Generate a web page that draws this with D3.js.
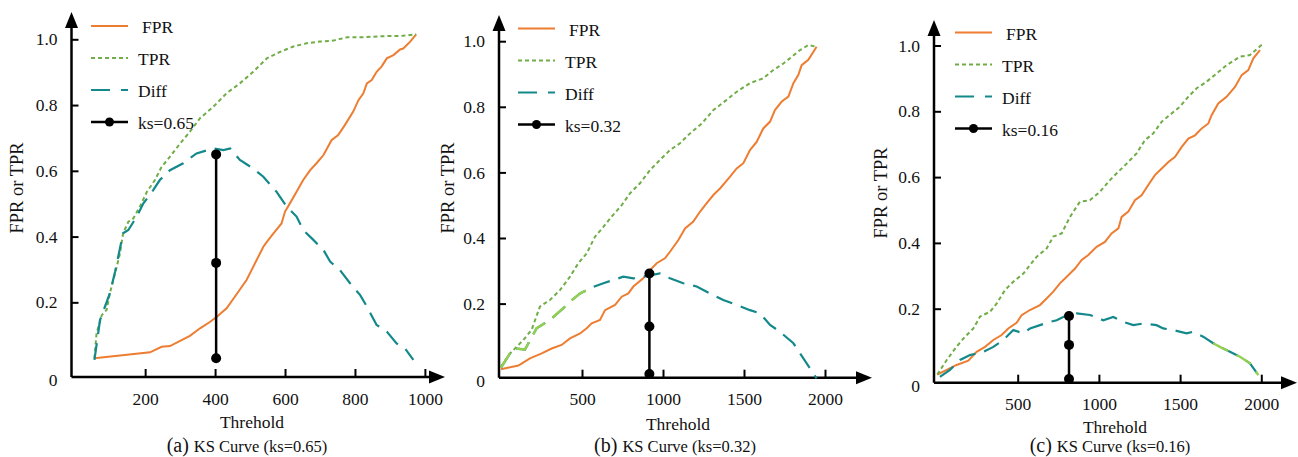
<!DOCTYPE html>
<html lang="en">
<head>
<meta charset="UTF-8">
<title>KS Curves</title>
<script src="https://d3js.org/d3.v7.min.js"></script>
<style>
  body { margin: 0; background: #fff; }
  svg text { font-family: "Liberation Serif", "Times New Roman", serif; fill: #111; }
</style>
</head>
<body>
<svg id="chart" width="1298" height="457"></svg>
<script>
// ---- data: [threshold, rate] ----
const fprA = [[55,.03],[214,.048],[247,.065],[271,.067],[300,.083],[328,.098],[357,.121],[386,.141],[405,.156],
  [433,.182],[467,.233],[490,.268],[509,.308],[538,.369],[548,.384],[567,.41],[590,.44],[600,.476],[614,.501],
  [633,.536],[652,.572],[672,.602],[690,.623],[710,.648],[733,.693],[752,.709],[771,.739],[795,.78],[810,.815],
  [824,.836],[834,.866],[848,.876],[862,.901],[876,.917],[891,.942],[910,.952],[929,.969],[938,.972],[958,.993],[975,1.015]];
const tprA = [[55,.03],[61,.106],[76,.161],[90,.177],[99,.227],[114,.288],[128,.349],[137,.41],[152,.445],[166,.455],
  [185,.491],[205,.536],[228,.572],[247,.612],[271,.643],[300,.683],[328,.719],[357,.76],[395,.795],[433,.836],
  [471,.866],[509,.901],[548,.942],[586,.962],[624,.978],[662,.988],[700,.993],[738,.996],[777,1.006],[815,1.006],
  [853,1.008],[891,1.01],[929,1.01],[975,1.015]];
const diffA = [[55,.025],[71,.146],[99,.227],[114,.293],[137,.41],[152,.42],[176,.461],[195,.501],[223,.541],
  [242,.572],[271,.602],[309,.623],[347,.653],[395,.668],[424,.663],[443,.668],[471,.633],[509,.607],[538,.582],
  [576,.536],[605,.491],[633,.461],[652,.42],[681,.39],[710,.359],[729,.324],[757,.298],[786,.258],[815,.222],
  [834,.187],[862,.131],[891,.111],[919,.075],[943,.06],[967,.025]];
const ksA = [[403,.65],[403,.32],[403,.03]];

const fprB = [[0,0],[107,.011],[179,.033],[251,.048],[313,.063],[374,.074],[426,.094],[488,.109],[529,.125],
  [560,.14],[611,.15],[642,.18],[704,.196],[745,.221],[786,.231],[817,.252],[878,.277],[920,.302],[961,.323],
  [1012,.338],[1043,.358],[1095,.394],[1136,.429],[1187,.45],[1228,.48],[1270,.506],[1311,.531],[1352,.551],
  [1414,.587],[1455,.612],[1496,.628],[1537,.668],[1578,.693],[1619,.734],[1661,.755],[1691,.79],[1733,.816],
  [1774,.831],[1805,.872],[1835,.897],[1856,.927],[1897,.943],[1948,.983]];
const tprB = [[0,.008],[56,.048],[138,.089],[189,.12],[240,.191],[302,.211],[364,.241],[426,.282],[477,.323],
  [529,.353],[580,.404],[632,.434],[683,.465],[745,.5],[796,.536],[858,.567],[920,.607],[981,.638],[1043,.668],
  [1105,.689],[1167,.719],[1239,.749],[1311,.79],[1393,.821],[1455,.846],[1537,.872],[1619,.887],[1681,.912],
  [1743,.932],[1784,.948],[1846,.973],[1897,.988],[1948,.983]];
const diffB = [[0,.005],[76,.064],[148,.06],[220,.125],[302,.15],[385,.186],[426,.206],[488,.231],[570,.251],
  [632,.262],[693,.272],[755,.282],[817,.277],[878,.282],[981,.292],[1043,.277],[1125,.262],[1208,.252],
  [1290,.231],[1372,.211],[1455,.196],[1537,.18],[1599,.17],[1661,.135],[1722,.114],[1805,.079],[1846,.048],
  [1907,.003],[1948,-.028]];
const diffBLight = [0, 570];
const ksB = [[916,.292],[916,.13],[916,-.015]];

const fprC = [[5,0],[63,.014],[124,.029],[196,.042],[247,.069],[299,.084],[350,.105],[401,.12],[442,.14],
  [493,.157],[524,.18],[575,.196],[637,.211],[678,.231],[719,.252],[760,.277],[802,.297],[853,.322],[894,.348],
  [935,.363],[986,.388],[1037,.403],[1078,.429],[1120,.444],[1140,.479],[1181,.495],[1222,.53],[1263,.545],
  [1304,.576],[1345,.606],[1387,.626],[1428,.646],[1469,.662],[1510,.692],[1551,.717],[1592,.727],[1633,.748],
  [1674,.763],[1694,.788],[1735,.824],[1786,.844],[1838,.874],[1879,.91],[1920,.925],[1951,.961],[1992,.986]];
const tprC = [[5,0],[63,.044],[124,.085],[176,.115],[227,.14],[268,.176],[330,.191],[371,.216],[422,.257],
  [473,.282],[535,.307],[576,.333],[617,.358],[678,.383],[719,.419],[771,.429],[822,.479],[883,.525],[945,.53],
  [1006,.555],[1068,.591],[1119,.616],[1171,.641],[1232,.672],[1283,.712],[1335,.733],[1386,.768],[1437,.789],
  [1499,.814],[1550,.844],[1602,.87],[1663,.89],[1725,.915],[1786,.94],[1869,.966],[1930,.971],[2012,1.006]];
const diffC = [[21,-.007],[83,.014],[145,.044],[206,.059],[288,.069],[350,.084],[411,.105],[473,.135],[535,.125],
  [576,.14],[637,.15],[699,.16],[740,.165],[802,.18],[863,.186],[945,.181],[1027,.165],[1088,.175],[1150,.16],
  [1212,.15],[1273,.155],[1355,.15],[1396,.14],[1458,.135],[1540,.125],[1580,.13],[1642,.115],[1704,.095],
  [1745,.084],[1807,.069],[1869,.054],[1930,.034],[1982,-.002]];
const diffCLight = [1700, 2000];
const ksC = [[816,.178],[816,.09],[816,-.014]];

const xTicksA = [200, 400, 600, 800, 1000];
const xTicksBC = [500, 1000, 1500, 2000];
const yTicks = [0.2, 0.4, 0.6, 0.8, 1.0];
const legendNames = ["FPR", "TPR", "Diff"];

const colors = { fpr: "#ed7d31", tpr: "#70ad47", diff: "#14898b", light: "#92d050", ks: "#000" };

const panels = [
  { tag: "(a)", title: "KS Curve (ks=0.65)", ks: "ks=0.65", fpr: fprA, tpr: tprA, diff: diffA, light: null, dots: ksA,
    ticks: xTicksA, xMax: 1000, px: [75.2, 424.9], py: [368.1, 39.3], axX: 71.5, axY: 377, top: 12, right: 445,
    legX: 91, legY: 26, ylabX: 17, ylabY: 188, tickBase: 405, xlabY: 428, xlabX: 252, capX: 247 },
  { tag: "(b)", title: "KS Curve (ks=0.32)", ks: "ks=0.32", fpr: fprB, tpr: tprB, diff: diffB, light: diffBLight, dots: ksB,
    ticks: xTicksBC, xMax: 2000, px: [501, 825], py: [369.2, 41.2], axX: 499, axY: 377.7, top: 15, right: 872,
    legX: 518, legY: 28.5, ylabX: 448, ylabY: 188, tickBase: 405, xlabY: 430, xlabX: 678, capX: 675 },
  { tag: "(c)", title: "KS Curve (ks=0.16)", ks: "ks=0.16", fpr: fprC, tpr: tprC, diff: diffC, light: diffCLight, dots: ksC,
    ticks: xTicksBC, xMax: 2000, px: [936.5, 1261.3], py: [374.5, 45.5], axX: 934, axY: 382.7, top: 20, right: 1297,
    legX: 955, legY: 32.5, ylabX: 881, ylabY: 193, tickBase: 410, xlabY: 433, xlabX: 1115, capX: 1110 }
];

const svg = d3.select("#chart");

panels.forEach(p => {
  const g = svg.append("g");
  const x = d3.scaleLinear().domain([0, p.xMax]).range(p.px);
  const y = d3.scaleLinear().domain([0, 1]).range(p.py);
  const line = d3.line().x(d => x(d[0])).y(d => y(d[1]));

  // axes: ticks pointing into the plot
  const yAxis = g.append("g")
    .attr("transform", `translate(${p.axX},0)`)
    .call(d3.axisLeft(y).tickValues(yTicks).tickFormat(d3.format(".1f")).tickSize(-7).tickPadding(14));
  const xAxis = g.append("g")
    .attr("transform", `translate(0,${p.axY})`)
    .call(d3.axisBottom(x).tickValues(p.ticks).tickFormat(d3.format("d")).tickSize(-8).tickPadding(p.tickBase - p.axY - 12.5));
  [yAxis, xAxis].forEach(a => {
    a.select(".domain").remove();
    a.selectAll(".tick line").attr("stroke", "#000").attr("stroke-width", 2);
    a.selectAll(".tick text").attr("font-size", 17.5).attr("fill", "#111");
  });
  g.append("text").attr("x", p.axX - 14).attr("y", p.axY + 9)
    .attr("text-anchor", "end").attr("font-size", 17.5).text("0");

  // axis lines with arrow heads
  g.append("line").attr("x1", p.axX).attr("x2", p.axX).attr("y1", p.axY).attr("y2", p.top + 12)
    .attr("stroke", "#000").attr("stroke-width", 2.5);
  g.append("line").attr("x1", p.axX).attr("x2", p.right - 12).attr("y1", p.axY).attr("y2", p.axY)
    .attr("stroke", "#000").attr("stroke-width", 2.5);
  g.append("path").attr("d", `M${p.axX},${p.top}L${p.axX - 6.5},${p.top + 16}L${p.axX + 6.5},${p.top + 16}Z`);
  g.append("path").attr("d", `M${p.right},${p.axY}L${p.right - 16},${p.axY - 6.5}L${p.right - 16},${p.axY + 6.5}Z`);

  // curves
  g.append("path").datum(p.fpr).attr("d", line)
    .attr("fill", "none").attr("stroke", colors.fpr).attr("stroke-width", 2);
  g.append("path").datum(p.tpr).attr("d", line)
    .attr("fill", "none").attr("stroke", colors.tpr).attr("stroke-width", 2).attr("stroke-dasharray", "4,3");
  g.append("path").datum(p.diff).attr("d", line)
    .attr("fill", "none").attr("stroke", colors.diff).attr("stroke-width", 2.2).attr("stroke-dasharray", "17,9");
  if (p.light) {
    const part = p.diff.filter(d => d[0] >= p.light[0] && d[0] <= p.light[1]);
    g.append("path").datum(part).attr("d", line)
      .attr("fill", "none").attr("stroke", colors.light).attr("stroke-width", 2.4).attr("stroke-dasharray", "17,9");
  }

  // ks marker
  g.append("path").datum(p.dots).attr("d", line).attr("stroke", colors.ks).attr("stroke-width", 2.5);
  g.selectAll("circle.ks").data(p.dots).join("circle").attr("class", "ks")
    .attr("cx", d => x(d[0])).attr("cy", d => y(d[1])).attr("r", 5).attr("fill", colors.ks);

  // legend
  const leg = g.append("g").attr("transform", `translate(${p.legX},${p.legY})`);
  const styles = [
    { c: colors.fpr, dash: null }, { c: colors.tpr, dash: "4,3" }, { c: colors.diff, dash: "19,11" }, { c: colors.ks, dash: null }
  ];
  legendNames.concat([p.ks]).forEach((name, i) => {
    const row = leg.append("g").attr("transform", `translate(0,${i * 32})`);
    row.append("line").attr("x1", 0).attr("x2", 37).attr("stroke", styles[i].c)
      .attr("stroke-width", i === 3 ? 2.5 : 2).attr("stroke-dasharray", styles[i].dash);
    if (i === 3) row.append("circle").attr("cx", 18.5).attr("r", 4.5).attr("fill", colors.ks);
    row.append("text").attr("x", i === 0 ? 51 : 47).attr("y", 7).attr("font-size", 17.5).text(name);
  });

  // labels
  g.append("text").attr("transform", `translate(${p.ylabX},${p.ylabY}) rotate(-90)`)
    .attr("text-anchor", "middle").attr("dy", "0.35em").attr("font-size", 18.5).text("FPR or TPR");
  g.append("text").attr("x", p.xlabX).attr("y", p.xlabY).attr("text-anchor", "middle")
    .attr("font-size", 17.5).text("Threhold");
  const cap = g.append("text").attr("x", p.capX).attr("y", 452).attr("text-anchor", "middle");
  cap.append("tspan").attr("font-size", 20).text(p.tag + " ");
  cap.append("tspan").attr("font-size", 16.5).text(p.title);
});
</script>
</body>
</html>
